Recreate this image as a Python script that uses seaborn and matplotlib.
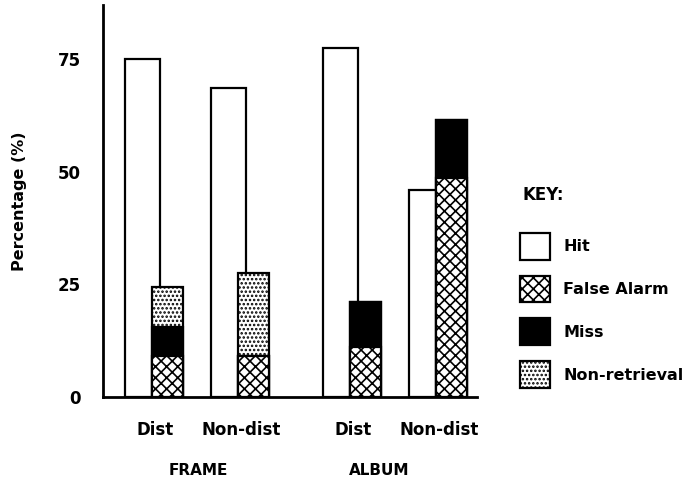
import matplotlib
matplotlib.use("Agg")
import matplotlib.pyplot as plt
from matplotlib.patches import Patch
import seaborn as sns
import pandas as pd
import numpy as np

# ---- data ----
conditions = ["Dist", "Non-dist", "Dist", "Non-dist"]
groups = ["FRAME", "ALBUM"]
hit = [75, 68.5, 77.5, 46]
false_alarm = [9, 9, 11, 48.5]
miss = [6.5, 0, 10, 13]
non_retrieval = [9, 18.5, 0, 0]
legend_labels = ["Hit", "False Alarm", "Miss", "Non-retrieval"]
y_ticks = [0, 25, 50, 75]

# ---- layout (positions of condition pairs) ----
pair_pos = np.array([0.0, 1.0, 2.3, 3.3])
group_pos = [0.5, 2.6]
off = 0.145
width = 0.40

sns.set_theme(style="white")
plt.rcParams["font.family"] = ["DejaVu Sans"]
plt.rcParams["font.weight"] = "bold"
plt.rcParams["text.color"] = "black"
plt.rcParams["xtick.color"] = "black"
plt.rcParams["ytick.color"] = "black"
plt.rcParams["axes.labelcolor"] = "black"
plt.rcParams["hatch.linewidth"] = 1.2
plt.rcParams["hatch.color"] = "black"

fig = plt.figure(figsize=(6.93, 4.86), dpi=100)
ax = fig.add_axes([103 / 693, 1 - 397 / 486, (477 - 103) / 693, (397 - 5) / 486])

df = pd.DataFrame({
    "hit_x": pair_pos - off,
    "stk_x": pair_pos + off,
    "hit": hit,
    "fa": false_alarm,
    "fa_miss": np.array(false_alarm) + np.array(miss),
    "total": np.array(false_alarm) + np.array(miss) + np.array(non_retrieval),
})

lw = 1.6
sns.barplot(data=df, x="hit_x", y="hit", native_scale=True, width=width,
            color="white", edgecolor="black", linewidth=lw, saturation=1,
            errorbar=None, ax=ax)
sns.barplot(data=df, x="stk_x", y="total", native_scale=True, width=width * 0.9,
            color="white", edgecolor="black", linewidth=lw, saturation=1,
            hatch="....", errorbar=None, ax=ax)
sns.barplot(data=df, x="stk_x", y="fa_miss", native_scale=True, width=width * 0.9,
            color="black", edgecolor="black", linewidth=lw, saturation=1,
            errorbar=None, ax=ax)
sns.barplot(data=df, x="stk_x", y="fa", native_scale=True, width=width * 0.9,
            color="white", edgecolor="black", linewidth=lw, saturation=1,
            hatch="xxx", errorbar=None, ax=ax)

ax.set_xlim(-0.605, 3.74)
ax.set_ylim(0, 87)
ax.set_yticks(y_ticks)
ax.set_yticklabels([str(t) for t in y_ticks], fontsize=12, fontweight="bold")
ax.set_xticks(pair_pos)
ax.set_xticklabels(conditions, fontsize=12, fontweight="bold")
ax.tick_params(axis="both", length=0)
ax.tick_params(axis="x", pad=17)
ax.tick_params(axis="y", pad=16)
ax.set_xlabel("")
ax.set_ylabel("Percentage (%)", fontsize=11.5, fontweight="bold", labelpad=22)

for s in ["top", "right"]:
    ax.spines[s].set_visible(False)
for s in ["left", "bottom"]:
    ax.spines[s].set_color("black")
    ax.spines[s].set_linewidth(2)

for gp, g in zip(group_pos, groups):
    ax.text(gp, -16.3, g, transform=ax.transData, ha="center", va="center",
            fontsize=11, fontweight="bold", clip_on=False)

# ---- legend ----
fig.text(522 / 693, 1 - 195 / 486, "KEY:", fontsize=12, fontweight="bold",
         ha="left", va="center")
handles = [
    Patch(facecolor="white", edgecolor="black", linewidth=lw),
    Patch(facecolor="white", edgecolor="black", linewidth=lw, hatch="xxx"),
    Patch(facecolor="black", edgecolor="black", linewidth=lw),
    Patch(facecolor="white", edgecolor="black", linewidth=lw, hatch="...."),
]
fig.legend(handles, legend_labels, loc="upper left",
           bbox_to_anchor=(520 / 693, 1 - 233 / 486), frameon=False,
           prop={"weight": "bold", "size": 11.5},
           handlelength=1.9, handleheight=2.2, handletextpad=0.8,
           labelspacing=1.0, borderpad=0, borderaxespad=0)

fig.savefig("out.png", dpi=100)
